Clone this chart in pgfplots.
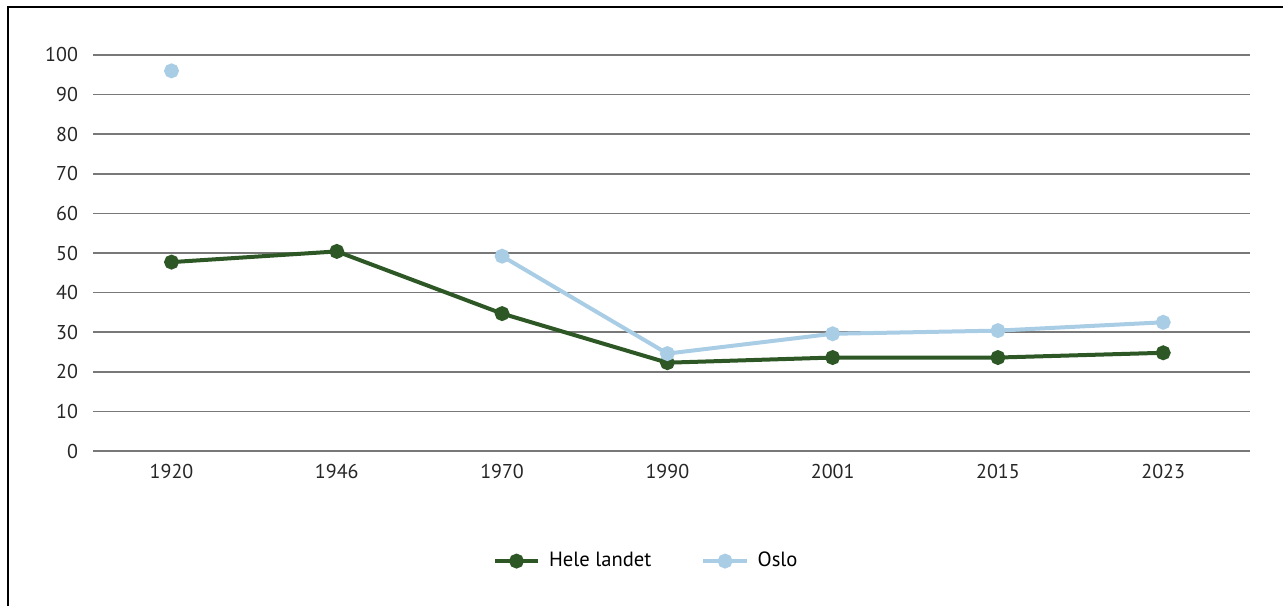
\documentclass[border=0pt]{standalone}
\usepackage{pgfplots}
\pgfplotsset{compat=1.18}
\usepackage{fontspec}
\setmainfont{PT Sans}
\definecolor{helec}{RGB}{46,87,38}
\definecolor{osloc}{RGB}{170,205,230}
\definecolor{gridc}{RGB}{120,120,120}
\begin{document}
\begin{tikzpicture}
\useasboundingbox (0,0) rectangle (641.5pt,303pt);
\draw[line width=1pt] (4pt,0) -- (4pt,299.5pt) -- (641.5pt,299.5pt);
\begin{axis}[
  at={(46.5pt,77.5pt)}, anchor=south west,
  scale only axis,
  width=578.5pt, height=198pt,
  xmin=-0.475, xmax=6.525,
  ymin=0, ymax=100,
  axis line style={draw=none},
  tick style={draw=none},
  xtick={0,...,6},
  xticklabels={1920,1946,1970,1990,2001,2015,2023},
  ytick={0,10,...,100},
  ymajorgrids=true,
  grid style={gridc, line width=0.75pt},
  /pgf/number format/assume math mode=true,
  ticklabel style={font=\fontsize{10}{12}\selectfont, text=black!85},
  yticklabel style={xshift=-4pt},
  xticklabel style={yshift=-3pt},
  unbounded coords=jump,
  legend columns=2,
  legend style={draw=none, fill=none, at={(0.479,-0.278)}, anchor=center,
    font=\fontsize{10.3}{12}\selectfont,
    /tikz/every odd column/.append style={column sep=2.5pt},
    /tikz/every even column/.append style={column sep=23pt}},
  legend image code/.code={\draw[mark repeat=2,mark phase=2] plot coordinates {(0cm,0cm)(0.38cm,0cm)(0.76cm,0cm)};},
]
\addplot[helec, line width=2pt, mark=*, mark size=2.7pt, mark options={solid}]
coordinates {(0,47.7) (1,50.4) (2,34.7) (3,22.3) (4,23.6) (5,23.6) (6,24.8)};
\addlegendentry{Hele landet}
\addplot[osloc, line width=2pt, mark=*, mark size=2.7pt, mark options={solid}]
coordinates {(0,96) (1,nan) (2,49.2) (3,24.6) (4,29.6) (5,30.4) (6,32.5)};
\addlegendentry{Oslo}
\end{axis}
\end{tikzpicture}
\end{document}
